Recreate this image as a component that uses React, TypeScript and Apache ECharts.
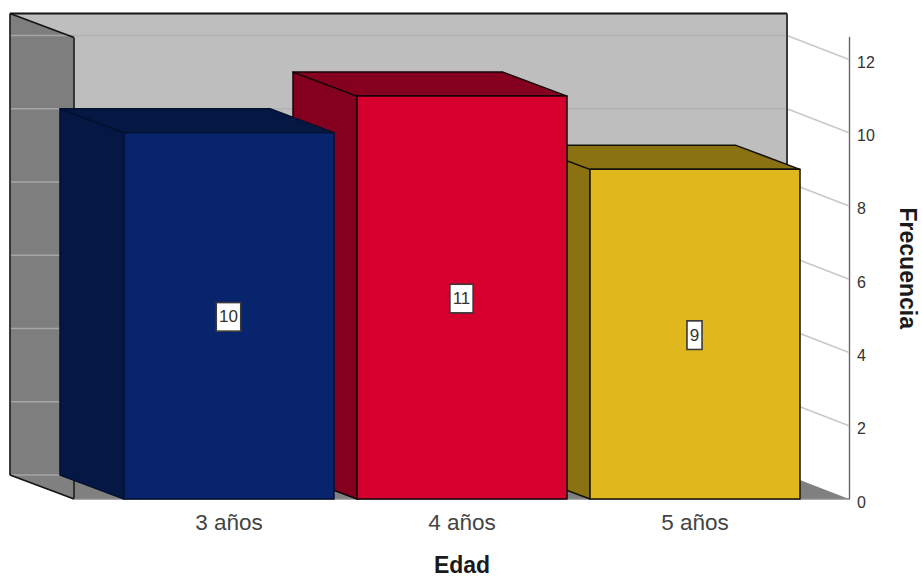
import React, { useEffect, useLayoutEffect, useRef } from "react";
import * as echarts from "echarts";

// Age groups and their counts
const categories = ["3 años", "4 años", "5 años"];
const frequencies = [10, 11, 9];
const valueTicks = [0, 2, 4, 6, 8, 10, 12];
const valueMax = 12.6;

// Front face / side face / outline colours for each bar
const frontColors = ["#07246c", "#d6002f", "#e0b81e"];
const sideColors = ["#051743", "#85001f", "#8a7212"];
const edgeColors = ["#04112f", "#15040a", "#15120a"];

const FONT = '"Liberation Sans", Arial, sans-serif';

// Oblique projection offset from the front plane to the back plane
const DX = -64;
const DY = -24;
const BAR_WIDTH = 210;
// How far the plot box reaches past the category band on each side
const INSET_LEFT = 38.5;
const INSET_RIGHT = 37.5;

const EDGE = "#141414";

function poly(points: number[][], fill: string, stroke?: string, lineWidth = 1.4) {
  return {
    type: "polygon",
    shape: { points },
    style: { fill, stroke: stroke ?? "none", lineWidth, lineJoin: "round" },
    silent: true,
  };
}

function seg(x1: number, y1: number, x2: number, y2: number, stroke: string, lineWidth = 1) {
  return {
    type: "line",
    shape: { x1, y1, x2, y2 },
    style: { stroke, lineWidth },
    silent: true,
  };
}

// Back wall, side wall, floor and the grid lines wrapped around them
function renderRoom(params: any, api: any) {
  const sys = params.coordSys;
  const left = sys.x - INSET_LEFT;
  const right = sys.x + sys.width + INSET_RIGHT;
  const bottom = sys.y + sys.height;
  const top = sys.y;
  const backLeft = left + DX;
  const backRight = right + DX + 2;
  const backTop = top + DY;
  const backBottom = bottom + DY;

  const children: any[] = [
    poly([[backLeft, backTop], [backRight, backTop], [backRight, backBottom], [backLeft, backBottom]], "#bebebe"),
    poly([[backLeft, backTop], [left, top], [left, bottom], [backLeft, backBottom]], "#7e7e7e"),
    poly([[backLeft, backBottom], [backRight, backBottom], [right, bottom], [left, bottom]], "#808080"),
  ];

  valueTicks.forEach((tick) => {
    const y = api.coord([0, tick])[1];
    const backY = y + DY;
    children.push(seg(backLeft, backY, left, backY, "#a6a6a6", 1.3));
    children.push(seg(left, backY, backRight, backY, "#b2b2b2", 1.3));
    if (tick > 0) children.push(seg(backRight, backY, right, y, "#c8c8c8", 1.4));
  });

  children.push(
    seg(backLeft, backTop, backRight, backTop, EDGE, 1.8),
    seg(backLeft, backTop, backLeft, backBottom, "#2a2a2a", 1.8),
    seg(backRight, backTop, backRight, backBottom, "#3a3a3a", 2),
    seg(backLeft, backTop, left, top, EDGE, 1.8),
    seg(left, top, left, bottom, "#2a2a2a", 1.8),
    seg(backLeft, backBottom, left, bottom, EDGE, 1.8),
    seg(left, bottom, right, bottom, "#8c8c8c", 1.5)
  );
  return { type: "group", children };
}

// One oblique bar with its value tag on the front face
function renderBar(_params: any, api: any) {
  const index = api.value(0);
  const value = api.value(1);
  const [cx, y0] = api.coord([index, 0]);
  const y1 = api.coord([index, value])[1];
  const x0 = cx - BAR_WIDTH / 2;
  const x1 = cx + BAR_WIDTH / 2;
  const stroke = edgeColors[index];
  const midY = (y0 + y1) / 2;
  return {
    type: "group",
    children: [
      poly([[x0 + DX, y1 + DY], [x0, y1], [x0, y0], [x0 + DX, y0 + DY]], sideColors[index], stroke, 1.5),
      poly([[x0 + DX, y1 + DY], [x1 + DX, y1 + DY], [x1, y1], [x0, y1]], sideColors[index], stroke, 1.5),
      poly([[x0, y1], [x1, y1], [x1, y0], [x0, y0]], frontColors[index], stroke, 1.5),
      {
        type: "text",
        silent: true,
        style: {
          x: cx - 0.5,
          y: midY + 1,
          text: String(value),
          align: "center",
          verticalAlign: "middle",
          fill: "#333333",
          font: `17px ${FONT}`,
          backgroundColor: "#ffffff",
          borderColor: "#3a3a3a",
          borderWidth: 1.6,
          padding: [6, 2, 4, 2],
        },
      },
    ],
  };
}

export default function App() {
  const ref = useRef<HTMLDivElement>(null);

  useLayoutEffect(() => {
    document.body.style.margin = "0";
  }, []);

  useEffect(() => {
    if (!ref.current) return;
    const chart = echarts.init(ref.current, undefined, { renderer: "svg", width: 922, height: 578 });
    chart.setOption({
      animation: false,
      backgroundColor: "#ffffff",
      grid: { left: 112.5, right: 110.5, top: 37.5, bottom: 79, outerBoundsMode: "none" },
      xAxis: {
        type: "category",
        data: categories,
        name: "Edad",
        nameLocation: "middle",
        nameGap: 58,
        nameTextStyle: { fontFamily: FONT, fontWeight: "bold", fontSize: 23, lineHeight: 16, color: "#1a1a1a" },
        axisLine: { show: false },
        axisTick: { show: false },
        axisLabel: { fontFamily: FONT, fontSize: 22.5, color: "#444444", margin: 12 },
      },
      yAxis: {
        type: "value",
        position: "right",
        offset: INSET_RIGHT,
        min: 0,
        max: valueMax,
        interval: 2,
        name: "Frecuencia",
        nameLocation: "middle",
        nameRotate: -90,
        nameGap: 47,
        nameTextStyle: { fontFamily: FONT, fontWeight: "bold", fontSize: 23, color: "#1a1a1a" },
        axisLine: { show: true, lineStyle: { color: "#666666", width: 1.4 } },
        axisTick: { show: false },
        splitLine: { show: false },
        axisLabel: {
          fontFamily: FONT,
          fontSize: 16,
          color: "#333333",
          margin: 8,
          // Tick labels sit a little below their grid lines
          verticalAlign: "top",
          lineHeight: 6,
          showMaxLabel: false,
        },
      },
      series: [
        {
          type: "custom",
          z: 1,
          silent: true,
          renderItem: renderRoom,
          data: [[0, 0]],
          encode: { x: 0, y: 1 },
        },
        {
          type: "custom",
          z: 2,
          silent: true,
          renderItem: renderBar,
          // Right-to-left so each front face sits over its neighbour's side face
          data: categories.map((_, i) => [i, frequencies[i]]).reverse(),
          encode: { x: 0, y: 1 },
        },
      ],
    });
    return () => chart.dispose();
  }, []);

  return <div ref={ref} style={{ width: 922, height: 578 }} />;
}
